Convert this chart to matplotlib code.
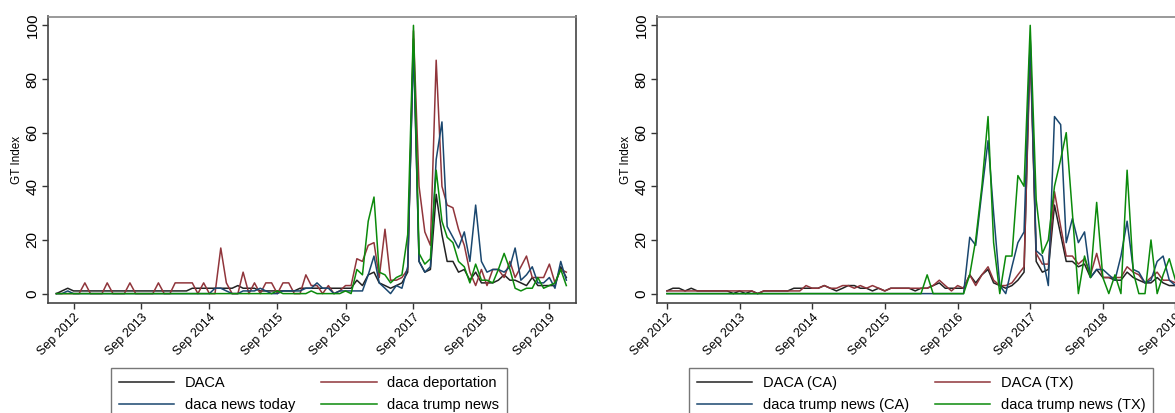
import numpy as np
import pandas as pd
import matplotlib
matplotlib.use('Agg')
import matplotlib.pyplot as plt

plt.rcParams['font.family'] = ['Liberation Sans', 'DejaVu Sans']

# monthly Google Trends index, national (Jun 2012 - Dec 2019)
months_us = pd.date_range('2012-06-01', periods=91, freq='MS')
daca = [0, 1, 2, 1, 1, 1, 1, 1, 1, 1, 1, 1, 1, 1, 1, 1, 1, 1, 1, 1,
        1, 1, 1, 1, 2, 2, 2, 2, 2, 2, 2, 2, 3, 2, 2, 2, 1, 1, 1, 1,
        1, 1, 1, 2, 2, 2, 2, 2, 2, 2, 2, 2, 2, 5, 3, 7, 8, 4, 3, 2,
        3, 4, 8, 95, 12, 8, 9, 37, 22, 12, 12, 8, 9, 5, 8, 4, 4, 4, 5, 7,
        5, 5, 4, 3, 6, 3, 3, 3, 3, 10, 6]
daca_deport = [0, 0, 0, 0, 0, 4, 0, 0, 0, 4, 0, 0, 0, 4, 0, 0, 0, 0, 4, 0,
               0, 4, 4, 4, 4, 0, 4, 0, 0, 17, 4, 0, 0, 8, 0, 4, 0, 4, 4, 0,
               4, 4, 0, 0, 7, 3, 3, 0, 3, 0, 1, 3, 3, 13, 12, 18, 19, 6, 24, 5,
               5, 6, 9, 98, 40, 23, 18, 87, 40, 33, 32, 24, 18, 8, 3, 9, 3, 9, 9, 6,
               12, 6, 10, 14, 6, 6, 6, 11, 4, 9, 8]
daca_news = [0, 0, 1, 0, 0, 0, 0, 0, 0, 0, 0, 0, 0, 0, 0, 0, 0, 0, 0, 0,
             0, 0, 0, 0, 0, 0, 0, 0, 2, 2, 1, 0, 0, 1, 1, 1, 2, 1, 0, 0,
             1, 1, 1, 1, 2, 2, 4, 2, 2, 0, 1, 1, 1, 1, 1, 7, 14, 4, 2, 0,
             3, 2, 10, 92, 12, 8, 10, 50, 64, 25, 21, 17, 23, 12, 33, 12, 8, 9, 9, 8,
             10, 17, 5, 7, 10, 4, 4, 6, 2, 12, 5]
daca_trump = [0, 0, 0, 0, 0, 0, 0, 0, 0, 0, 0, 0, 0, 0, 0, 0, 0, 0, 0, 0,
              0, 0, 0, 0, 0, 0, 0, 0, 0, 0, 0, 0, 0, 0, 0, 0, 0, 0, 0, 1,
              0, 0, 0, 0, 0, 1, 0, 0, 0, 0, 0, 1, 0, 9, 7, 27, 36, 8, 7, 4,
              6, 7, 22, 100, 15, 11, 13, 46, 27, 21, 19, 12, 10, 4, 11, 5, 5, 4, 9, 15,
              9, 2, 1, 2, 2, 6, 2, 3, 4, 9, 3]

# state level (Sep 2012 - Sep 2019)
months_st = pd.date_range('2012-09-01', periods=85, freq='MS')
daca_ca = [1, 2, 2, 1, 2, 1, 1, 1, 1, 1, 1, 0, 1, 0, 1, 0, 1, 1, 1, 1,
           1, 2, 2, 2, 2, 2, 3, 2, 1, 2, 3, 3, 2, 2, 1, 2, 1, 2, 2, 2,
           2, 1, 2, 2, 3, 4, 2, 2, 2, 2, 7, 4, 7, 9, 4, 3, 2, 3, 5, 8,
           95, 12, 8, 9, 33, 22, 12, 12, 10, 11, 6, 9, 6, 6, 5, 5, 8, 6, 5, 4,
           4, 6, 4, 3, 3]
daca_tx = [1, 1, 1, 1, 1, 1, 1, 1, 1, 1, 1, 1, 1, 1, 1, 0, 1, 1, 1, 1,
           1, 1, 1, 3, 2, 2, 3, 2, 2, 3, 3, 2, 3, 2, 3, 2, 1, 2, 2, 2,
           2, 2, 2, 2, 3, 5, 3, 1, 3, 2, 7, 3, 7, 10, 5, 3, 3, 4, 7, 10,
           90, 15, 11, 11, 38, 25, 14, 14, 11, 13, 7, 15, 6, 6, 6, 6, 10, 8, 7, 4,
           6, 8, 5, 5, 4]
trump_ca = [0, 0, 0, 0, 0, 0, 0, 0, 0, 0, 0, 0, 0, 0, 0, 0, 0, 0, 0, 0,
            0, 0, 0, 0, 0, 0, 0, 0, 0, 0, 0, 0, 0, 0, 0, 0, 0, 0, 0, 0,
            0, 0, 0, 0, 0, 0, 0, 0, 0, 0, 21, 18, 38, 57, 30, 3, 0, 10, 19, 23,
            95, 16, 14, 3, 66, 63, 19, 28, 19, 23, 6, 9, 9, 7, 5, 14, 27, 9, 8, 4,
            5, 12, 14, 5, 3]
trump_tx = [0, 0, 0, 0, 0, 0, 0, 0, 0, 0, 0, 0, 0, 0, 0, 0, 0, 0, 0, 0,
            0, 0, 0, 0, 0, 0, 0, 0, 0, 0, 0, 0, 0, 0, 0, 0, 0, 0, 0, 0,
            0, 0, 0, 7, 0, 0, 0, 0, 0, 0, 7, 20, 40, 66, 19, 0, 14, 14, 44, 40,
            100, 35, 15, 20, 40, 50, 60, 30, 0, 14, 6, 34, 6, 0, 7, 0, 46, 8, 0, 0,
            20, 0, 7, 13, 5]

tick_years = [2012, 2013, 2014, 2015, 2016, 2017, 2018, 2019]
tick_labels = ['Sep %d' % y for y in tick_years]
yticks = [0, 20, 40, 60, 80, 100]

colors = ['#222222', '#90353b', '#1a476f', '#0b8a0b']
labels_us = ['DACA', 'daca deportation', 'daca news today', 'daca trump news']
labels_st = ['DACA (CA)', 'DACA (TX)', 'daca trump news (CA)', 'daca trump news (TX)']

W, H = 1175, 413
fig = plt.figure(figsize=(W / 100, H / 100), dpi=100)
ax1 = fig.add_axes([48 / W, (H - 303) / H, 528 / W, 286.5 / H])
ax2 = fig.add_axes([657 / W, (H - 303) / H, 528 / W, 286.5 / H])


def style(ax, xlim):
    ax.set_xlim(pd.Timestamp(xlim[0]), pd.Timestamp(xlim[1]))
    ax.set_ylim(-3.5, 103.3)
    ticks = [pd.Timestamp('%d-09-01' % y) for y in tick_years]
    ax.set_xticks(ticks)
    ax.set_xticklabels(tick_labels, rotation=45, ha='right',
                       rotation_mode='anchor', fontsize=9)
    ax.set_yticks(yticks)
    ax.set_yticklabels([str(v) for v in yticks], fontsize=11)
    for lab in ax.get_yticklabels():
        lab.set_rotation(90)
        lab.set_va('center')
        lab.set_ha('right')
    ax.tick_params(axis='both', direction='out', length=4, width=1,
                   color='#333333', pad=2)
    ax.set_ylabel('GT Index', fontsize=8.5, labelpad=2)
    for s in ax.spines.values():
        s.set_color('#444444')
        s.set_linewidth(1.2)
    ax.spines['top'].set_color('#888888')


series_us = [daca, daca_deport, daca_news, daca_trump]
for ys, c, lab in zip(series_us, colors, labels_us):
    ax1.plot(months_us, ys, color=c, lw=1.1, label=lab)
style(ax1, ('2012-04-17', '2020-01-22'))

series_st = [daca_ca, daca_tx, trump_ca, trump_tx]
for ys, c, lab in zip(series_st, colors, labels_st):
    ax2.plot(months_st, ys, color=c, lw=1.1, label=lab)
style(ax2, ('2012-07-13', '2019-10-19'))

for ax, cx in [(ax1, 309), (ax2, 921)]:
    h = ax.get_lines()
    # legend is filled row by row
    handles = [h[0], h[2], h[1], h[3]]
    leg = fig.legend(handles=handles, loc='upper center',
                     bbox_to_anchor=(cx / W, (H - 368) / H), ncol=2,
                     fontsize=10.5, frameon=True, fancybox=False,
                     borderaxespad=0, handlelength=3.8, columnspacing=1.8,
                     handletextpad=0.7, borderpad=0.55, labelspacing=0.52)
    leg.get_frame().set_edgecolor('#555555')
    leg.get_frame().set_linewidth(1.0)

fig.savefig('out.png', dpi=100)
